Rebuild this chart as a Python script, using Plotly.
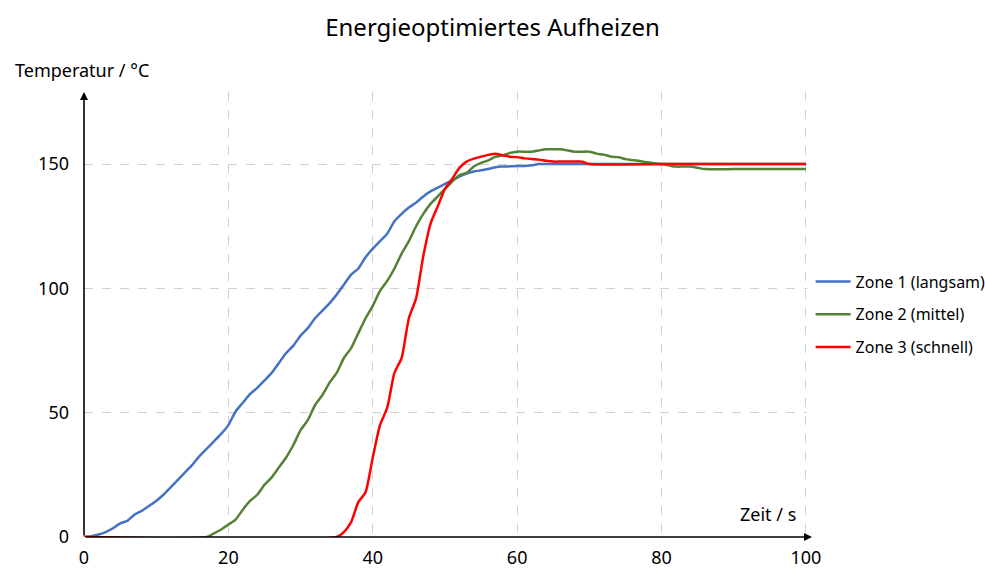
import plotly.graph_objects as go

# ---- data ----
t_blue = list(range(0, 64)) + [70, 80, 90, 100]
zone1 = [0, 0.3, 1, 2, 3.5, 5.5, 6.5, 9, 10.5, 12.5, 14.5, 17, 20, 23, 26, 29, 32.5, 35.5, 38.5, 41.5,
         45, 50.5, 54, 57.5, 60, 63, 66, 70, 74, 77, 81, 84, 88, 91, 94, 97.5, 101.5, 105.5, 108, 112.5,
         116, 119, 122, 127, 130, 132.5, 134.5, 137, 139, 140.5, 142, 143.5, 145, 146.2, 147, 147.5,
         148, 148.7, 149, 149.1, 149.2, 149.2, 149.5, 150, 150, 150, 150, 150]

t_green = [0, 17] + list(range(18, 87)) + [90, 95, 100]
zone2 = [0, 0, 1.5, 3, 5, 7, 11, 14.5, 17, 21, 24, 28, 32, 37, 43, 47, 53, 57, 62, 66, 72, 76, 82, 88,
         93, 99, 103, 108, 114, 119, 125, 130, 134, 137, 140, 143, 145.5, 146.5, 149, 150.5, 151.5,
         153, 153.5, 154.5, 155, 155, 155, 155.5, 156, 156, 156, 155.5, 155, 155, 155, 154.2, 153.8,
         153, 152.8, 152, 151.6, 151.2, 150.7, 150.3, 150, 149.5, 149, 149, 149, 148.5, 148,
         148, 148, 148]

t_red = [0, 35] + list(range(36, 71)) + [80, 90, 100]
zone3 = [0, 0, 2, 6, 14, 18, 32, 45, 52, 66, 72, 88, 96, 113, 126, 133, 140, 144, 148.5, 151, 152.2,
         153, 153.7, 154.2, 153.5, 153, 152.8, 152.3, 152, 151.8, 151.3, 151, 151, 151, 151, 151, 150,
         150, 150, 150]

series_names = ["Zone 1 (langsam)", "Zone 2 (mittel)", "Zone 3 (schnell)"]
series_colors = ["#4472C4", "#548235", "#FF0000"]
x_ticks = [0, 20, 40, 60, 80, 100]
y_ticks = [0, 50, 100, 150]

FONT = "Noto Sans"

fig = go.Figure()
for i, (xs, ys) in enumerate([(t_blue, zone1), (t_green, zone2), (t_red, zone3)]):
    fig.add_trace(go.Scatter(
        x=xs, y=ys, mode="lines", name=series_names[i],
        line=dict(color=series_colors[i], width=2.5, shape="spline", smoothing=0.6),
        legendgroup=f"g{i}", cliponaxis=False,
    ))

fig.update_layout(
    width=985, height=568,
    margin=dict(l=84, r=178, t=92, b=31, autoexpand=False),
    plot_bgcolor="white", paper_bgcolor="white",
    font=dict(family=FONT, size=16, color="#000000"),
    title=dict(text="Energieoptimiertes Aufheizen", x=0.5, xanchor="center", y=0.952, yanchor="middle",
               font=dict(family=FONT, size=24, color="#000000")),
    showlegend=True,
    legend=dict(x=1.005, xanchor="left", y=0.5, yanchor="middle", tracegroupgap=9,
                font=dict(family=FONT, size=16, color="#000000"), itemwidth=35,
                bgcolor="rgba(0,0,0,0)"),
    xaxis=dict(range=[0, 100.15], tickvals=x_ticks, showgrid=True, gridcolor="#D0D0D0",
               griddash="dash", gridwidth=1, zeroline=False, showline=False, automargin=False,
               ticks="", tickfont=dict(family=FONT, size=18), ticklabelstandoff=8),
    yaxis=dict(range=[0, 179], tickvals=y_ticks, showgrid=True, gridcolor="#D0D0D0",
               griddash="dash", gridwidth=1, zeroline=False, showline=False, automargin=False,
               ticks="", tickfont=dict(family=FONT, size=18), ticklabelstandoff=14),
)

# axis arrows
fig.add_annotation(x=0, y=1, xref="x", yref="paper", ax=0, ay=445, axref="pixel", ayref="pixel",
                   showarrow=True, arrowhead=2, arrowsize=1, arrowwidth=1.6, arrowcolor="black", text="")
fig.add_annotation(x=1.0069, y=0, xref="paper", yref="y", ax=-728, ay=0, axref="pixel", ayref="pixel",
                   showarrow=True, arrowhead=2, arrowsize=1, arrowwidth=1.6, arrowcolor="black", text="")

# axis titles
fig.add_annotation(x=0, y=1, xref="paper", yref="paper", xshift=-2, yshift=22, text="Temperatur / °C",
                   showarrow=False, xanchor="center", yanchor="middle",
                   font=dict(family=FONT, size=18, color="black"))
fig.add_annotation(x=100, y=0, xref="x", yref="y", xshift=-8, yshift=9, text="Zeit / s",
                   showarrow=False, xanchor="right", yanchor="bottom",
                   font=dict(family=FONT, size=18, color="black"))

fig.write_html("out.html", config={"displayModeBar": False},
               post_script="document.body.style.margin='0px';document.body.style.overflow='hidden';")
